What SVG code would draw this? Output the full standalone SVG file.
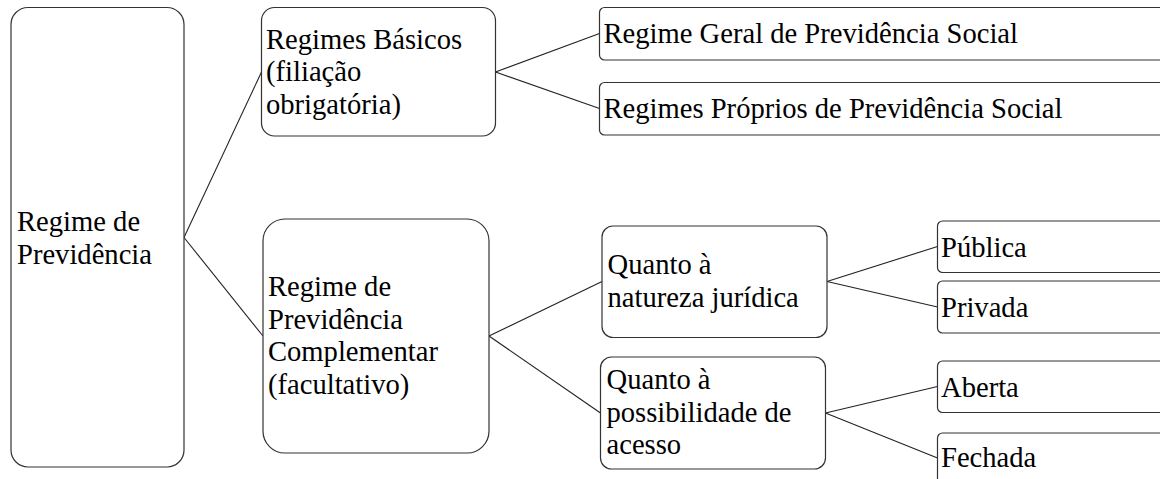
<svg xmlns="http://www.w3.org/2000/svg" width="1160" height="479" viewBox="0 0 1160 479">
<style>
.box{fill:#fff;stroke:#333;stroke-width:1.2}
text{font-family:'Times New Roman',Times,Tinos,'Liberation Serif','DejaVu Serif',serif;font-size:28.6px;fill:#000}
.c{stroke:#222;stroke-width:1.1;fill:none}
</style>
<rect width="1160" height="479" fill="#fff"/>
<g id="connectors">
<line class="c" x1="184" y1="237.5" x2="261.5" y2="72"/>
<line class="c" x1="184" y1="237.5" x2="263" y2="336"/>
<line class="c" x1="495.5" y1="72" x2="599.5" y2="33.5"/>
<line class="c" x1="495.5" y1="72" x2="599.5" y2="108.5"/>
<line class="c" x1="489" y1="336" x2="602" y2="281.5"/>
<line class="c" x1="489" y1="336" x2="600.5" y2="413"/>
<line class="c" x1="827" y1="281.5" x2="937.5" y2="246.5"/>
<line class="c" x1="827" y1="281.5" x2="937.5" y2="307"/>
<line class="c" x1="825.5" y1="413" x2="937.5" y2="386.5"/>
<line class="c" x1="825.5" y1="413" x2="937.5" y2="458"/>
</g>
<g id="root">
<rect class="box" x="11" y="7.5" width="173" height="459.5" rx="17"/>
<text x="17" y="231">Regime de</text>
<text x="17" y="263.5">Previdência</text>
</g>
<g id="basicos">
<rect class="box" x="261.5" y="7.5" width="234" height="128.5" rx="13"/>
<text x="266" y="48.5">Regimes Básicos</text>
<text x="266" y="81">(filiação</text>
<text x="266" y="113.5">obrigatória)</text>
</g>
<g id="complementar">
<rect class="box" x="263" y="219" width="226" height="234" rx="22"/>
<text x="268" y="296">Regime de</text>
<text x="268" y="328.5">Previdência</text>
<text x="268" y="361">Complementar</text>
<text x="268" y="393.5">(facultativo)</text>
</g>
<g id="geral">
<rect class="box" x="599.5" y="7.5" width="580" height="52.5" rx="5"/>
<text x="603.5" y="43.3">Regime Geral de Previdência Social</text>
</g>
<g id="proprios">
<rect class="box" x="599.5" y="82.5" width="580" height="52.5" rx="5"/>
<text x="603.5" y="118.3">Regimes Próprios de Previdência Social</text>
</g>
<g id="natureza">
<rect class="box" x="602" y="226" width="225" height="111.5" rx="11"/>
<text x="607.5" y="274">Quanto à</text>
<text x="607.5" y="307">natureza jurídica</text>
</g>
<g id="possibilidade">
<rect class="box" x="600.5" y="357" width="225" height="112" rx="11"/>
<text x="606.5" y="388.5">Quanto à</text>
<text x="606.5" y="421.5">possibilidade de</text>
<text x="606.5" y="454">acesso</text>
</g>
<g id="publica">
<rect class="box" x="937.5" y="221" width="250" height="51.5" rx="5"/>
<text x="941" y="256.7">Pública</text>
</g>
<g id="privada">
<rect class="box" x="937.5" y="281" width="250" height="52" rx="5"/>
<text x="941" y="316.7">Privada</text>
</g>
<g id="aberta">
<rect class="box" x="937.5" y="361" width="250" height="51.5" rx="5"/>
<text x="941" y="396.7">Aberta</text>
</g>
<g id="fechada">
<rect class="box" x="937.5" y="433" width="250" height="60" rx="5"/>
<text x="941" y="466.7">Fechada</text>
</g>
</svg>
